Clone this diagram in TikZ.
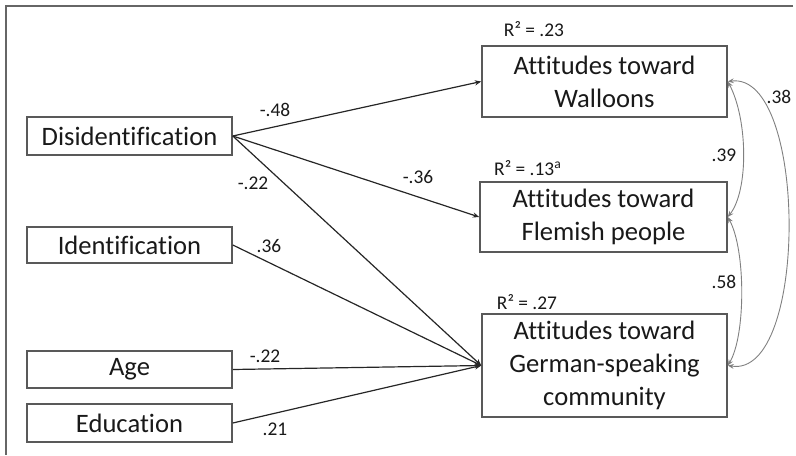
\documentclass[tikz,border=0pt]{standalone}
\usepackage{fontspec}
\setmainfont{Carlito}[Ligatures=NoCommon]
\usetikzlibrary{arrows.meta,calc}
\begin{document}
\begin{tikzpicture}[x=0.5pt,y=-0.5pt,
  box/.style={draw=black!65,line width=0.8pt,inner sep=0pt,align=center,font=\fontsize{13.3}{16.5}\selectfont,text=black!90},
  lbl/.style={inner sep=0pt,font=\fontsize{9.7}{11}\selectfont,text=black!90},
  path/.style={draw=black!85,line width=0.6pt,-{Stealth[length=3.2pt,width=2.6pt]}},
  cov/.style={draw=black!50,line width=0.45pt,{Stealth[length=3pt,width=2.4pt]}-{Stealth[length=3pt,width=2.4pt]}},
  frameline/.style={draw=black!60,line width=1pt}]
\useasboundingbox (0,0) rectangle (796,455);
\coordinate (fa) at (793,6);
\coordinate (fo) at (6,6);
\coordinate (fb) at (6,455);
\draw[frameline] (fa) -- (fo) -- (fb);
% left boxes
\node[box,minimum width=102.5pt,minimum height=19pt] (dis) at (129.5,136) {Disidentification};
\node[box,minimum width=102.5pt,minimum height=18pt] (ident) at (129.5,245) {Identification};
\node[box,minimum width=102.5pt,minimum height=18.5pt] (age) at (129.5,369.5) {Age};
\node[box,minimum width=102.5pt,minimum height=19pt] (edu) at (129.5,423) {Education};
% right boxes
\node[box,minimum width=122.5pt,minimum height=35.5pt] (wal) at (604.5,81.5) {Attitudes toward\\Walloons};
\node[box,minimum width=123.5pt,minimum height=35pt] (fle) at (603.5,217) {Attitudes toward\\Flemish people};
\node[box,minimum width=122.5pt,minimum height=51.5pt] (ger) at (604.5,365.5) {Attitudes toward\\German-speaking\\community};
% R2 labels
\node[lbl] (r1) at (534,29) {R² = .23};
\node[lbl] (r2) at (528,168) {R² = .13\textsuperscript{a}};
\node[lbl] (r3) at (527,302) {R² = .27};
% paths
\draw[path] (dis.east) -- (wal.west);
\draw[path] (dis.east) -- (fle.west);
\draw[path] (dis.east) -- (ger.west);
\draw[path] (ident.east) -- (ger.west);
\draw[path] (age.east) -- (ger.west);
\draw[path] (edu.east) -- (ger.west);
\node[lbl] (l1) at (275,110) {-.48};
\node[lbl] (l2) at (253,183) {-.22};
\node[lbl] (l3) at (418,177) {-.36};
\node[lbl] (l4) at (269,246) {.36};
\node[lbl] (l5) at (265,356) {-.22};
\node[lbl] (l6) at (275,429) {.21};
% covariances
\draw[cov] (wal.east) .. controls +(20,38) and +(21,-27) .. (fle.east);
\draw[cov] (fle.east) .. controls +(18,33) and +(18,-30) .. (ger.east);
\draw[cov] (wal.east) .. controls +(80,-10) and +(81,13) .. (ger.east);
\node[lbl] (c1) at (724,155) {.39};
\node[lbl] (c2) at (724,282) {.58};
\node[lbl] (c3) at (779,97) {.38};
\end{tikzpicture}
\end{document}
